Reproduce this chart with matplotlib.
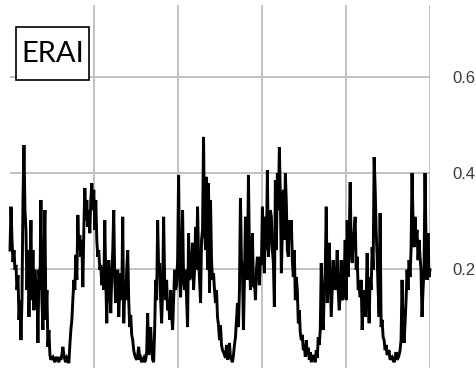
import numpy as np
import matplotlib
matplotlib.use("Agg")
import matplotlib.pyplot as plt
from matplotlib.patches import Rectangle

# ERAI series (5 years, values)
values = [
    0.240, 0.330, 0.261, 0.215, 0.240, 0.199, 0.209, 0.157, 0.188, 0.095,
    0.136, 0.053, 0.136, 0.344, 0.458, 0.323, 0.282, 0.157, 0.240, 0.101,
    0.199, 0.302, 0.136, 0.240, 0.115, 0.199, 0.147, 0.178, 0.047, 0.199,
    0.157, 0.344, 0.136, 0.074, 0.219, 0.323, 0.095, 0.157, 0.039, 0.074,
    0.022, 0.012, 0.016, 0.018, 0.012, 0.007, 0.016, 0.016, 0.012, 0.007,
    0.018, 0.012, 0.022, 0.039, 0.022, 0.012, 0.007, 0.016, 0.012, 0.005,
    0.043, 0.074, 0.095, 0.136, 0.178, 0.157, 0.230, 0.178, 0.313, 0.240,
    0.271, 0.226, 0.261, 0.163, 0.282, 0.369, 0.302, 0.344, 0.288, 0.323,
    0.275, 0.344, 0.379, 0.323, 0.365, 0.282,
    # year 2
    0.344, 0.261, 0.226, 0.240, 0.199, 0.209, 0.167, 0.203, 0.157, 0.302,
    0.178, 0.088, 0.199, 0.219, 0.157, 0.109, 0.188, 0.240, 0.323, 0.178,
    0.130, 0.167, 0.199, 0.101, 0.157, 0.192, 0.136, 0.309, 0.088, 0.157,
    0.136, 0.199, 0.240, 0.136, 0.080, 0.105, 0.064, 0.053, 0.032, 0.022,
    0.016, 0.012, 0.022, 0.039, 0.012, 0.016, 0.007, 0.012, 0.016, 0.007,
    0.012, 0.028, 0.109, 0.022, 0.043, 0.080, 0.032, 0.012, 0.007, 0.074,
    0.178, 0.136, 0.302, 0.199, 0.213, 0.136, 0.088, 0.157, 0.309, 0.178,
    0.136, 0.178, 0.115, 0.136, 0.095, 0.157, 0.105, 0.074, 0.136, 0.199,
    0.157, 0.167, 0.219, 0.396,
    # year 3
    0.199, 0.142, 0.219, 0.323, 0.178, 0.157, 0.199, 0.136, 0.080, 0.275,
    0.178, 0.184, 0.219, 0.255, 0.157, 0.199, 0.288, 0.199, 0.330, 0.226,
    0.178, 0.130, 0.261, 0.282, 0.475, 0.282, 0.240, 0.392, 0.199, 0.379,
    0.151, 0.344, 0.219, 0.178, 0.192, 0.157, 0.130, 0.157, 0.101, 0.084,
    0.053, 0.084, 0.043, 0.032, 0.028, 0.022, 0.016, 0.043, 0.012, 0.022,
    0.047, 0.016, 0.012, 0.007, 0.022, 0.043, 0.059, 0.095, 0.130, 0.080,
    0.157, 0.348, 0.219, 0.199, 0.074, 0.178, 0.309, 0.199, 0.178, 0.396,
    0.240, 0.157, 0.199, 0.275, 0.163, 0.178, 0.136, 0.199, 0.226, 0.199,
    0.167, 0.226, 0.209, 0.330, 0.240, 0.192,
    # year 4
    0.309, 0.240, 0.406, 0.226, 0.261, 0.323, 0.309, 0.240, 0.213, 0.122,
    0.385, 0.240, 0.400, 0.323, 0.454, 0.350, 0.192, 0.282, 0.365, 0.261,
    0.400, 0.338, 0.240, 0.226, 0.302, 0.275, 0.302, 0.219, 0.184, 0.240,
    0.136, 0.184, 0.157, 0.088, 0.115, 0.068, 0.053, 0.064, 0.032, 0.043,
    0.018, 0.053, 0.022, 0.037, 0.012, 0.028, 0.007, 0.016, 0.022, 0.012,
    0.007, 0.032, 0.016, 0.059, 0.043, 0.074, 0.213, 0.095, 0.074, 0.157,
    0.199, 0.330, 0.130, 0.178, 0.255, 0.178, 0.101, 0.157, 0.219, 0.178,
    0.157, 0.188, 0.240, 0.157, 0.115, 0.147, 0.219, 0.136, 0.142, 0.188,
    0.261,
    # year 5
    0.136, 0.302, 0.184, 0.267, 0.381, 0.240, 0.213, 0.261, 0.282, 0.309,
    0.199, 0.226, 0.157, 0.167, 0.142, 0.178, 0.074, 0.136, 0.157, 0.101,
    0.136, 0.234, 0.136, 0.088, 0.184, 0.157, 0.246, 0.199, 0.433, 0.371,
    0.282, 0.226, 0.157, 0.101, 0.317, 0.080, 0.095, 0.059, 0.053, 0.032,
    0.043, 0.022, 0.028, 0.032, 0.012, 0.016, 0.018, 0.012, 0.007, 0.016,
    0.028, 0.012, 0.016, 0.022, 0.032, 0.053, 0.178, 0.074, 0.047, 0.088,
    0.136, 0.199, 0.157, 0.219, 0.184, 0.240, 0.400, 0.302, 0.246, 0.309,
    0.261, 0.282, 0.219, 0.261, 0.226, 0.199, 0.101, 0.157, 0.199, 0.400,
    0.261, 0.178, 0.275, 0.184, 0.199,
]
years_span = 5
y_ticks = [0.2, 0.4, 0.6]
y_tick_labels = ["0.2", "0.4", "0.6"]
x_ticks = [1, 2, 3, 4, 5]
label = "ERAI"

t = np.linspace(0, years_span, len(values))

fig = plt.figure(figsize=(4.77, 3.68), dpi=100)
ax = fig.add_axes([10 / 477, 0.0, 420 / 477, 363 / 368])

grid_color = "#bdbdbd"
ax.plot(t, values, color="black", lw=2.1, zorder=3, clip_on=False,
        solid_joinstyle="miter")

ax.set_xlim(0, years_span)
ax.set_ylim(-0.005, 0.749)
ax.set_xticks(x_ticks)
ax.set_yticks(y_ticks)
ax.set_yticklabels(y_tick_labels)
ax.xaxis.grid(True, color=grid_color, lw=1.3, zorder=1)
ax.yaxis.grid(True, color=grid_color, lw=1.3, zorder=1)
ax.set_axisbelow(True)
for s in ax.spines.values():
    s.set_visible(False)
ax.tick_params(axis="x", length=0, labelbottom=False)
ax.tick_params(axis="y", length=0, left=False, labelleft=False,
               right=False, labelright=True, pad=16,
               labelsize=12, labelcolor="#3a3a3a")
for lab in ax.get_yticklabels():
    lab.set_fontfamily("Liberation Sans")

# label box
rect = Rectangle((6 / 420, (368 - 80) / 363), 73 / 420, 53 / 363,
                 transform=ax.transAxes, facecolor="white",
                 edgecolor="black", lw=1.2, zorder=5, clip_on=False)
ax.add_patch(rect)
ax.text(6 / 420 + 36.5 / 420, (368 - 53.5) / 363, label,
        transform=ax.transAxes, ha="center", va="center",
        fontsize=21, family=["Lato", "DejaVu Sans"], zorder=6)

fig.savefig("out.png", dpi=100)
